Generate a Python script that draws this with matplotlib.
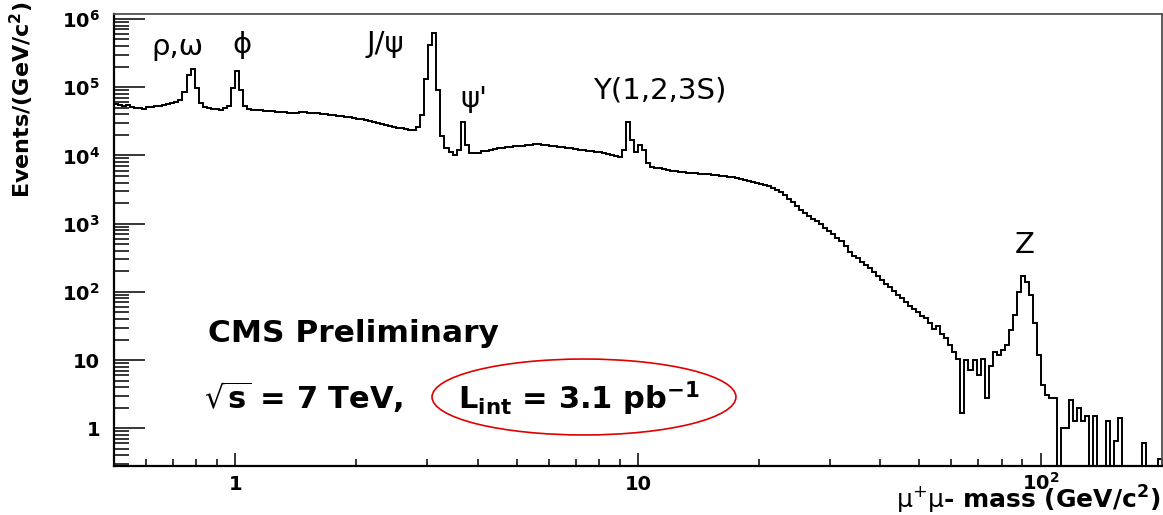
import numpy as np
import matplotlib
matplotlib.use('Agg')
import matplotlib.pyplot as plt
from matplotlib.patches import Ellipse
from matplotlib.ticker import FixedLocator, FixedFormatter, LogLocator, NullFormatter

# dimuon mass range and events per (log) bin
mass_min = 0.5
mass_max = 200.0
counts = [
    57000, 55000, 53000, 55000, 51000, 49500, 49000, 48000, 51000, 51000,
    53000, 53000, 55000, 57000, 59000, 61000, 65000, 85000, 150000, 185000,
    97000, 59000, 51000, 49500, 48000, 48000, 46000, 49000, 53000, 97000,
    173000, 91000, 53000, 48000, 46000, 46000, 46000, 45000, 45000, 44500,
    43000, 43000, 43000, 42000, 42000, 42000, 43000, 43000, 42000, 42000,
    42000, 40000, 40000, 39000, 39000, 38000, 38000, 36500, 36500, 35500,
    34000, 34000, 33000, 32000, 31000, 30000, 29000, 28000, 27000, 26000,
    25000, 25000, 24500, 23500, 23500, 26000, 39000, 130000, 410000, 620000,
    90000, 19000, 12800, 11200, 10100, 12000, 31000, 14200, 10800, 10800,
    11000, 11500, 11500, 12000, 12400, 12800, 12800, 13200, 13200, 13700,
    13700, 13700, 14200, 14200, 14700, 14700, 14200, 14200, 13700, 13700,
    13200, 13200, 12800, 12800, 12400, 12000, 12000, 11500, 11500, 11200,
    11200, 10800, 10400, 10100, 9800, 9500, 12000, 31000, 16800, 11200,
    14200, 12000, 7700, 6800, 6600, 6600, 6300, 6100, 5900, 5900,
    5700, 5700, 5500, 5500, 5500, 5300, 5300, 5300, 5200, 5200,
    5000, 5000, 4800, 4800, 4700, 4500, 4360, 4200, 4100, 3950,
    3800, 3700, 3550, 3300, 3100, 2900, 2600, 2300, 2100, 1800,
    1580, 1420, 1280, 1160, 1090, 980, 860, 780, 700, 620,
    555, 470, 385, 330, 310, 275, 245, 220, 195, 170,
    149, 130, 118, 103, 90, 81, 71, 62, 56, 50,
    44, 41, 35, 29, 32, 24, 21, 16.5, 13, 10.5,
    1.7, 10, 7.1, 10, 6, 10.5, 2.8, 8.3, 13, 12,
    14, 16.5, 28, 46, 100, 170, 140, 90, 35, 12,
    4.3, 3.1, 2.8, 2.8, 0, 1.0, 1.0, 2.6, 1.3, 2.0,
    1.3, 1.5, 0, 1.5, 0, 0, 1.3, 0, 0.66, 1.4,
    0, 0, 0, 0, 0, 0.6, 0, 0, 0, 0.35,
]

x_ticks = [1, 10, 100]
x_tick_labels = ['1', '10', r'$\mathbf{10^{2}}$']
y_ticks = [1, 10, 1e2, 1e3, 1e4, 1e5, 1e6]
y_tick_labels = ['1', '10', r'$\mathbf{10^{2}}$', r'$\mathbf{10^{3}}$',
                 r'$\mathbf{10^{4}}$', r'$\mathbf{10^{5}}$', r'$\mathbf{10^{6}}$']

peak_labels = ['ρ,ω', 'ϕ', 'J/ψ', "ψ'", 'Υ(1,2,3S)', 'Z']
peak_pos = [(0.061, 0.909), (0.122, 0.914), (0.259, 0.916),
            (0.343, 0.794), (0.521, 0.814), (0.869, 0.471)]

plt.rcParams['font.family'] = ['DejaVu Sans']
plt.rcParams['mathtext.fontset'] = 'dejavusans'

fig = plt.figure(figsize=(11.63, 5.15), dpi=100)
ax = fig.add_axes([0.098, 0.0951, 0.9011, 0.8777])

counts = np.array(counts, dtype=float)
edges = np.geomspace(mass_min, mass_max, len(counts) + 1)
ax.stairs(np.where(counts > 0, counts, 1e-3), edges, color='black',
          linewidth=1.4, baseline=None)

ax.set_xscale('log')
ax.set_yscale('log')
ax.set_xlim(mass_min, mass_max)
ax.set_ylim(0.28, 1.18e6)

ax.xaxis.set_major_locator(FixedLocator(x_ticks))
ax.xaxis.set_major_formatter(FixedFormatter(x_tick_labels))
ax.xaxis.set_minor_locator(LogLocator(base=10, subs=np.arange(2, 10), numticks=50))
ax.xaxis.set_minor_formatter(NullFormatter())
ax.yaxis.set_major_locator(FixedLocator(y_ticks))
ax.yaxis.set_major_formatter(FixedFormatter(y_tick_labels))
ax.yaxis.set_minor_locator(LogLocator(base=10, subs=np.arange(2, 10), numticks=50))
ax.yaxis.set_minor_formatter(NullFormatter())

ax.tick_params(axis='y', which='major', direction='in', length=22, width=1.1,
               pad=10, labelsize=14)
ax.tick_params(axis='y', which='minor', direction='in', length=11, width=1.1)
ax.tick_params(axis='x', which='major', direction='in', length=9.7, width=1.1,
               pad=17, labelsize=14)
ax.tick_params(axis='x', which='minor', direction='in', length=4.9, width=1.1)
for lbl in ax.get_xticklabels():
    lbl.set_fontweight('bold')
    lbl.set_verticalalignment('baseline')
for lbl in ax.get_yticklabels():
    lbl.set_fontweight('bold')

for side in ['left', 'bottom']:
    ax.spines[side].set_linewidth(1.6)
    ax.spines[side].set_color('black')
for side in ['top', 'right']:
    ax.spines[side].set_linewidth(1.3)
    ax.spines[side].set_color('#505050')

for txt, (px, py) in zip(peak_labels, peak_pos):
    ax.text(px, py, txt, transform=ax.transAxes, ha='center', va='baseline',
            fontsize=21)

ax.text(0.0897, 0.274, 'CMS Preliminary', transform=ax.transAxes,
        fontsize=22.5, fontweight='bold', va='baseline')
ax.text(0.0859, 0.126, r'$\sqrt{\mathbf{s}}$ = 7 TeV,', transform=ax.transAxes,
        fontsize=22, fontweight='bold', va='baseline')
ax.text(0.3282, 0.126, r'L$_{\mathbf{int}}$ = 3.1 pb$^{\mathbf{-1}}$',
        transform=ax.transAxes, fontsize=22, fontweight='bold', va='baseline')
ax.add_patch(Ellipse((0.4485, 0.1527), 0.290, 0.168, transform=ax.transAxes,
                     fill=False, edgecolor='#e00000', linewidth=1.2, clip_on=False))

fig.text(22 / 1163, 1 - 1 / 515, r'Events/(GeV/c$^{\mathbf{2}}$)', rotation=90,
         ha='center', va='top', fontsize=16, fontweight='bold')
fig.text(1160 / 1163, 1 - 509 / 515, r'$\mathrm{\mu^{+}\mu}$- mass (GeV/c$^{\mathbf{2}}$)',
         ha='right', va='baseline', fontsize=18, fontweight='bold')

fig.savefig('out.png', dpi=100, facecolor='white')
